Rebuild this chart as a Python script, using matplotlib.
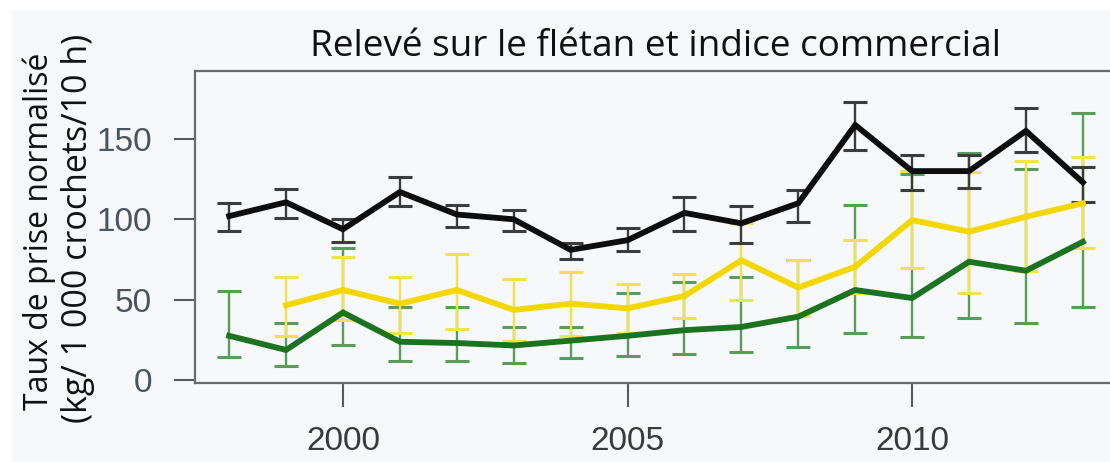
import numpy as np
import matplotlib
matplotlib.use("Agg")
import matplotlib.pyplot as plt
from matplotlib import font_manager as fm
from matplotlib.patches import Rectangle

# ---------------- data ----------------
years = [1998, 1999, 2000, 2001, 2002, 2003, 2004, 2005,
         2006, 2007, 2008, 2009, 2010, 2011, 2012, 2013]

black_mid = [102, 110.6, 93.8, 117, 103, 100, 81, 87, 104, 97.5, 110, 158.7, 130, 130, 155, 123]
black_lo = [93, 100.6, 86, 108, 95, 93, 75, 80, 93, 85, 98.5, 143, 118, 119.5, 142, 111]
black_hi = [110, 119, 100, 126.5, 109, 106, 85, 94.5, 114, 108, 118, 173, 140, 140, 169, 132.7]

yellow_mid = [np.nan, 46.5, 56, 47.5, 56, 43.6, 47.5, 44.6, 52.3, 74.5, 57.5, 70.5, 99.5, 92.3, 101.6, 110]
yellow_lo = [np.nan, 27.4, 37.5, 29, 32, 24.5, 27.4, 29, 38.4, 49.5, 40, 54, 70, 54, 68, 82]
yellow_hi = [np.nan, 64, 76.5, 64, 78.5, 62.7, 67, 60, 66, 97.5, 74.7, 87, 130, 129.6, 136, 139]

green_mid = [27.5, 18.7, 42, 23.8, 23, 21.5, 24.5, 27.5, 31, 33, 39.4, 56, 51, 73.6, 68, 86]
green_lo = [14.5, 8.7, 21.8, 11.6, 11.6, 10.4, 13.5, 15, 16, 17.6, 20.7, 29, 26.5, 38.4, 35.3, 45.5]
green_hi = [55.5, 35.3, 82, 45.6, 45.2, 33, 33, 54, 61.2, 64, 74.7, 109, 128, 141, 131, 166]

x_ticks = [2000, 2005, 2010]
y_ticks = [0, 50, 100, 150]

title = "Relevé sur le flétan et indice commercial"
ylabel1 = "Taux de prise normalisé"
ylabel2 = "(kg/ 1 000 crochets/10 h)"

# ---------------- fonts ----------------
names = {f.name for f in fm.fontManager.ttflist}
tick_family = 'Liberation Sans Narrow' if 'Liberation Sans Narrow' in names else 'Liberation Sans'
label_family = 'Open Sans' if 'Open Sans' in names else 'DejaVu Sans'

W, H = 1110, 462
fig = plt.figure(figsize=(W / 100, H / 100), dpi=100, facecolor='white')
BG = '#f7f8fa'
fig.patches.append(Rectangle((12 / W, 0), 1, (H - 10) / H, transform=fig.transFigure,
                             facecolor=BG, edgecolor='none', zorder=-10))

ax = fig.add_axes([195 / W, (H - 383) / H, (1117 - 195) / W, (383 - 71) / H])
ax.set_facecolor(BG)

def draw(mid, lo, hi, lc, ec, zl, ze):
    mid = np.array(mid, float); lo = np.array(lo, float); hi = np.array(hi, float)
    m = ~np.isnan(mid)
    yr = np.array(years)[m]
    ax.errorbar(yr, mid[m], yerr=[mid[m] - lo[m], hi[m] - mid[m]], fmt='none',
                ecolor=ec, elinewidth=1.7, capsize=8.5, capthick=2.2, zorder=ze)
    ax.plot(yr, mid[m], color=lc, lw=4.2, solid_joinstyle='miter', zorder=zl)

draw(green_mid, green_lo, green_hi, '#1b7320', '#5a9c5a', 5, 2)
draw(yellow_mid, yellow_lo, yellow_hi, '#f4d600', '#f1e24e', 6, 3)
draw(black_mid, black_lo, black_hi, '#0d0d0d', '#3c3c3c', 7, 4)

ax.set_xlim(1997.4, 2013.6)
ax.set_ylim(-1.87, 192.3)
ax.set_xticks(x_ticks)
ax.set_yticks(y_ticks)
ax.set_xticklabels([str(v) for v in x_ticks], family=tick_family, fontsize=24, color='#3a3a3a')
ax.set_yticklabels([str(v) for v in y_ticks], family=tick_family, fontsize=24, color='#4a5461')
ax.tick_params(axis='y', length=15, width=1.5, color='#5a5a5a', pad=16)
ax.tick_params(axis='x', length=17, width=1.5, color='#5a5a5a', pad=14)
for s in ['left', 'top', 'bottom']:
    ax.spines[s].set_color('#6a6a6a')
    ax.spines[s].set_linewidth(1.6)
ax.spines['right'].set_visible(False)

# ---------------- text fitted to reference widths ----------------
t = fig.text(655 / W, (H - 56) / H, title, ha='center', va='baseline',
             family=label_family, fontsize=28, color='#111111')
l1 = fig.text(48 / W, (H - 231) / H, ylabel1, rotation=90, rotation_mode='anchor',
              ha='center', va='baseline', family=label_family, fontsize=26, color='#111111')
l2 = fig.text(87 / W, (H - 228) / H, ylabel2, rotation=90, rotation_mode='anchor',
              ha='center', va='baseline', family=label_family, fontsize=26, color='#111111')

fig.canvas.draw()
r = fig.canvas.get_renderer()
for txt, target, horiz in [(t, 693, True), (l1, 358, False), (l2, 391, False)]:
    bb = txt.get_window_extent(r)
    cur = bb.width if horiz else bb.height
    txt.set_fontsize(txt.get_fontsize() * target / cur)

fig.savefig('out.png', dpi=100, facecolor=fig.get_facecolor())
